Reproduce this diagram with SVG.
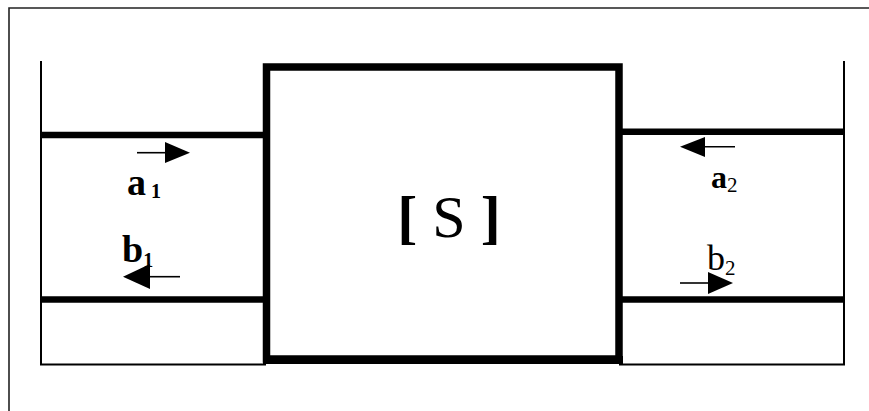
<svg xmlns="http://www.w3.org/2000/svg" width="869" height="411" viewBox="0 0 869 411">
<defs>
<style>
.thin{stroke:#000;stroke-width:2;fill:none}
.thick{stroke:#000;stroke-width:6.5;fill:none}
.arr{stroke:#000;stroke-width:1.6;fill:none}
.head{fill:#000}
.lbl{font-family:"Liberation Serif","Times New Roman",serif;fill:#000}
</style>
</defs>
<rect width="869" height="411" fill="#fff"/>
<path d="M9,411 V8 H869" stroke="#222" stroke-width="1.6" fill="none"/>
<g id="port1">
<path class="thin" d="M41,61 V364.5 H266"/>
<line class="thick" x1="41" y1="135" x2="266" y2="135"/>
<line class="thick" x1="41" y1="299.5" x2="266" y2="299.5"/>
</g>
<g id="port2">
<path class="thin" d="M844,61 V364.5 H619"/>
<line class="thick" x1="619" y1="131.7" x2="844" y2="131.7"/>
<line class="thick" x1="619" y1="299.5" x2="844" y2="299.5"/>
</g>
<g id="S">
<rect x="266.5" y="67" width="352.5" height="292" fill="none" stroke="#000" stroke-width="7.5"/>
<line x1="263" y1="360" x2="623" y2="360" stroke="#000" stroke-width="8"/>
<text class="lbl" x="449" y="237" font-size="60" text-anchor="middle"><tspan font-weight="bold">[</tspan> S <tspan font-weight="bold">]</tspan></text>
</g>
<g id="connectors">
<line class="arr" x1="137" y1="152.7" x2="168" y2="152.7"/>
<polygon class="head" points="165,142 190,152.7 165,163"/>
<line class="arr" x1="148" y1="276.7" x2="180" y2="276.7"/>
<polygon class="head" points="150,264 123,276.7 150,289"/>
<line class="arr" x1="702" y1="146.7" x2="735" y2="146.7"/>
<polygon class="head" points="705,137 680,146.7 705,157"/>
<line class="arr" x1="680" y1="283" x2="710" y2="283"/>
<polygon class="head" points="708,272 733,283 708,294"/>
</g>
<g id="labels">
<text class="lbl" x="127" y="195" font-size="38" font-weight="bold">a<tspan font-size="20" dy="3" dx="5">1</tspan></text>
<text class="lbl" x="122" y="262" font-size="38" font-weight="bold">b<tspan font-size="20" dy="5">1</tspan></text>
<text class="lbl" x="711" y="188" font-size="32" font-weight="bold">a<tspan font-size="21" font-weight="normal" dy="4">2</tspan></text>
<text class="lbl" x="707" y="270" font-size="36">b<tspan font-size="21" dy="5">2</tspan></text>
</g>
</svg>
